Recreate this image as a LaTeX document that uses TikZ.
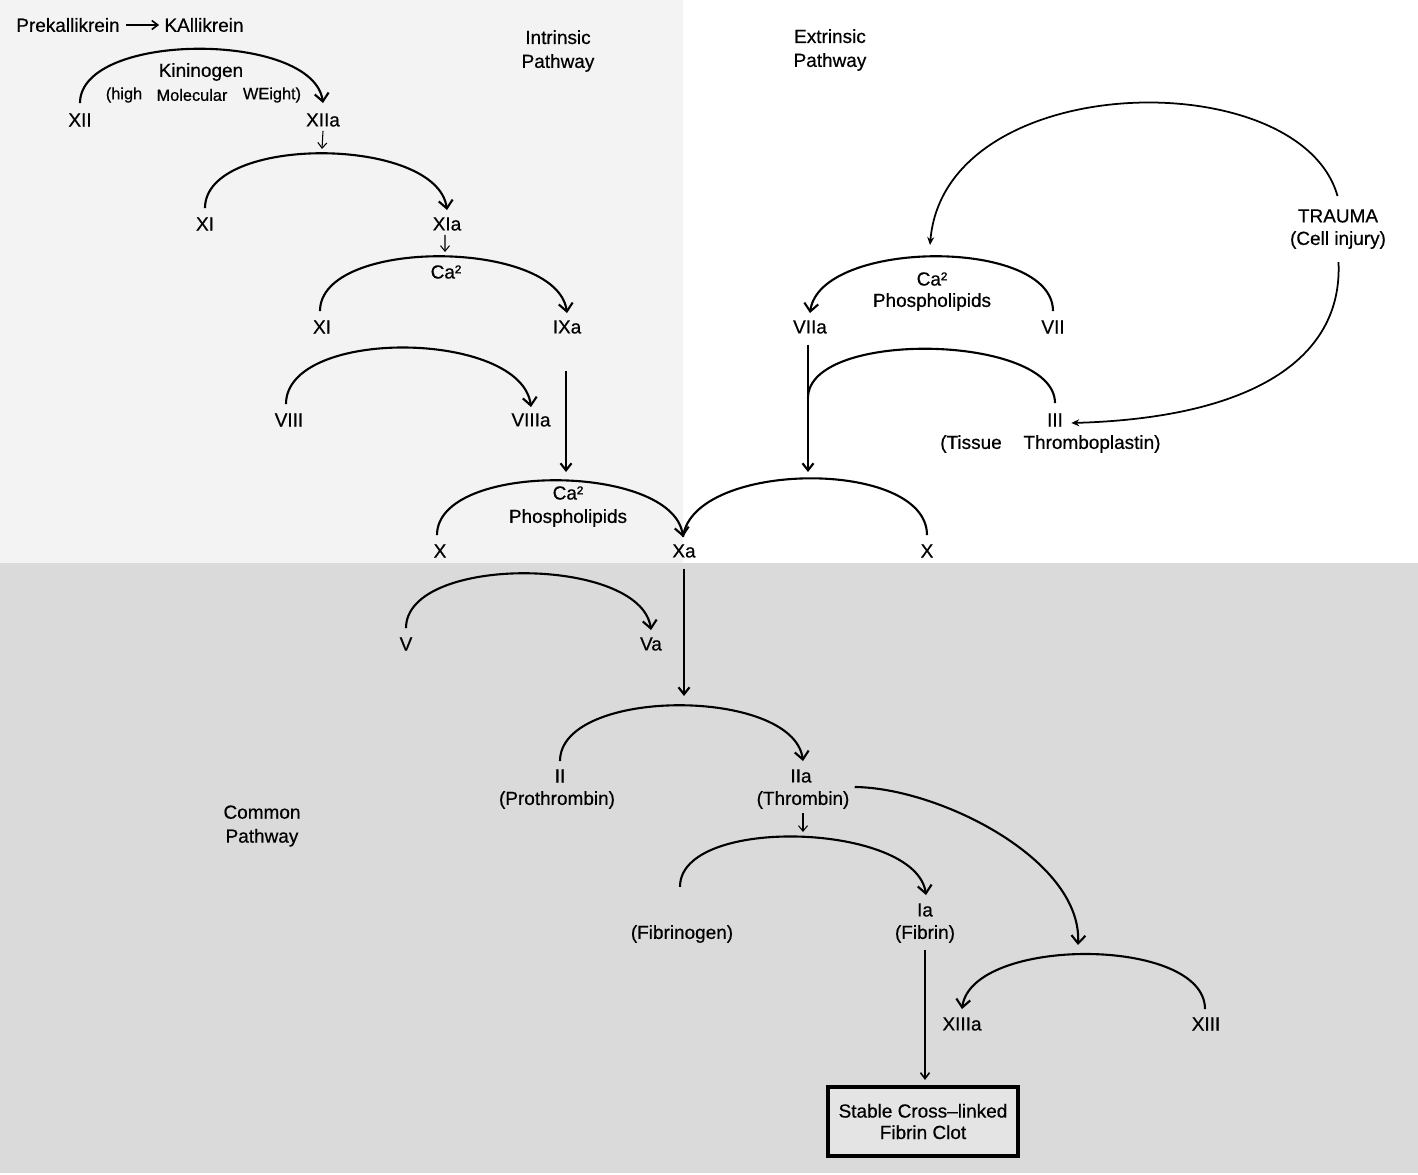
\documentclass[tikz,border=0pt]{standalone}
\usepackage{fontspec}
\setmainfont[FakeBold=0.5,AutoFakeBold=0.5]{Liberation Sans}
\usetikzlibrary{arrows.meta}
\definecolor{bgA}{HTML}{F3F3F3}
\definecolor{bgC}{HTML}{DADADA}
\definecolor{boxc}{HTML}{E4E4E4}
\begin{document}
\begin{tikzpicture}[x=0.02cm,y=-0.02cm,
  lbl/.style={inner sep=0pt, font=\fontsize{10.8}{13}\selectfont\bfseries},
  sml/.style={inner sep=0pt, font=\fontsize{9.3}{11}\selectfont\bfseries},
  two/.style={inner sep=0pt, align=center, font=\fontsize{10.8}{13.6}\selectfont\bfseries},
  arcline/.style={line width=1.2pt},
  arcarrow/.style={line width=1.2pt, -{Straight Barb[length=1.6mm,width=2.8mm,line width=1.2pt]}},
  longarrow/.style={line width=1.3pt, -{Straight Barb[length=1.4mm,width=2.2mm,line width=1.2pt]}},
  tinyarrow/.style={line width=0.6pt, -{Straight Barb[length=1.1mm,width=1.8mm,line width=0.6pt]}},
  thinarrow/.style={line width=0.9pt, -{Straight Barb[length=1.2mm,width=1.8mm,line width=0.9pt]}},
  traumaarrow/.style={line width=1.0pt, -{Stealth[length=1.6mm,width=1.4mm]}}
]
\useasboundingbox (0,0) rectangle (1418,1175);
\fill[white] (0,0) rectangle (1418,1175);
\fill[bgA] (0,0) rectangle (683,563);
\fill[bgC] (0,563) rectangle (1418,1173);

% ---- labels ----
\node[lbl] (pk) at (68,25) {Prekallikrein};
\node[lbl] (ka) at (204,25) {KAllikrein};
\node[two] (intr) at (558,51) {Intrinsic\\Pathway};
\node[two] (extr) at (830,50) {Extrinsic\\Pathway};
\node[lbl] (kin) at (201,72) {Kininogen};
\node[sml] (high) at (124,95) {(high};
\node[sml] (mol) at (192,95) {Molecular};
\node[sml] (wei) at (272,95) {WEight)};
\node[lbl] (f12) at (80,120) {XII};
\node[lbl] (f12a) at (323,120) {XIIa};
\node[lbl] (f11) at (205,224) {XI};
\node[lbl] (f11a) at (447,224) {XIa};
\node[lbl] (caA) at (446,272) {Ca²};
\node[lbl] (f9) at (322,327) {XI};
\node[lbl] (f9a) at (567,327) {IXa};
\node[lbl] (f8) at (289,420) {VIII};
\node[lbl] (f8a) at (531,420) {VIIIa};
\node[lbl] (caB) at (568,493) {Ca²};
\node[lbl] (phB) at (568,518) {Phospholipids};
\node[lbl] (f10l) at (440,551) {X};
\node[lbl] (f10a) at (684,551) {Xa};
\node[lbl] (f10r) at (927,551) {X};
\node[lbl] (trauma) at (1338,216) {TRAUMA};
\node[lbl] (cell) at (1338,240) {(Cell injury)};
\node[lbl] (caC) at (932,279) {Ca²};
\node[lbl] (phC) at (932,302) {Phospholipids};
\node[lbl] (f7a) at (810,327) {VIIa};
\node[lbl] (f7) at (1053,327) {VII};
\node[lbl] (f3) at (1055,420) {III};
\node[lbl] (tis) at (971,444) {(Tissue};
\node[lbl] (thr) at (1092,444) {Thromboplastin)};
\node[lbl] (f5) at (406,644) {V};
\node[lbl] (f5a) at (651,644) {Va};
\node[lbl] (f2) at (560,776) {II};
\node[lbl] (prot) at (557,800) {(Prothrombin)};
\node[lbl] (f2a) at (801,776) {IIa};
\node[lbl] (thrb) at (803,800) {(Thrombin)};
\node[two] (common) at (262,826) {Common\\Pathway};
\node[lbl] (fibg) at (682,934) {(Fibrinogen)};
\node[lbl] (f1a) at (925,910) {Ia};
\node[lbl] (fibr) at (925,934) {(Fibrin)};
\node[lbl] (f13a) at (962,1024) {XIIIa};
\node[lbl] (f13) at (1206,1024) {XIII};
\node[draw, line width=2.3pt, fill=boxc, minimum width=3.8cm, minimum height=1.38cm,
      align=center, inner sep=0pt, font=\fontsize{10.8}{12.2}\selectfont\bfseries] (clot) at (923,1121.5)
      {Stable Cross–linked\\Fibrin Clot};

% ---- helper coordinates ----
\coordinate (top2) at (322,149);
\coordinate (top3) at (445,252);
\coordinate (rapex) at (808,472);
\coordinate (join) at (808,398);
\coordinate (top10) at (684,696);
\coordinate (top11) at (803,832);
\coordinate (top5) at (566,472);

% ---- connectors ----
\draw[thinarrow] ([xshift=1.2mm]pk.east) -- ([xshift=-1mm]ka.west);

\draw[arcarrow] ([yshift=2mm]f12.north) .. controls +(0,-72) and +(-10,-72) .. ([yshift=2mm]f12a.north);
\draw[tinyarrow] ([yshift=-0.8mm]f12a.south) -- (top2);

\draw[arcarrow] ([yshift=1.8mm]f11.north) .. controls +(0,-74) and +(-10,-74) .. ([yshift=1.4mm]f11a.north);
\draw[tinyarrow] ([xshift=-0.4mm,yshift=-0.8mm]f11a.south) -- (top3);

\draw[arcarrow] ([xshift=-0.4mm,yshift=1.8mm]f9.north) .. controls +(0,-74) and +(-10,-74) .. ([yshift=1.4mm]f9a.north);

\draw[arcarrow] ([xshift=-0.6mm,yshift=1.8mm]f8.north) .. controls +(0,-77) and +(-10,-77) .. ([yshift=1.2mm]f8a.north);

\draw[longarrow] ([yshift=-7.5mm]f9a.south -| top5) -- (top5);

\draw[arcarrow] ([xshift=-0.6mm,yshift=1.8mm]f10l.north) .. controls +(0,-74) and +(-10,-74) .. ([xshift=-0.2mm,yshift=1.4mm]f10a.north);
\draw[arcline] ([yshift=1.8mm]f10r.north) .. controls +(0,-77) and +(10,-77) .. ([xshift=-0.2mm,yshift=1.4mm]f10a.north);

% extrinsic
\draw[arcarrow] ([yshift=1.8mm]f7.north) .. controls +(0,-74) and +(10,-74) .. ([yshift=1.4mm]f7a.north);
\draw[longarrow] ([yshift=-2.2mm]f7a.south -| rapex) -- (rapex);
\draw[arcline] (join) .. controls +(0,-69) and +(0,-69) .. ([yshift=2mm]f3.north);

% trauma
\draw[traumaarrow] ([xshift=-0.1mm,yshift=2.6mm]trauma.north) .. controls (1300,62) and (945,68) .. (930,245);
\draw[traumaarrow] ([xshift=0.1mm,yshift=-2.6mm]cell.south) .. controls (1343,360) and (1250,418) .. ([xshift=1.6mm]f3.east |- 0,423);

% common
\draw[longarrow] ([yshift=-2.2mm]f10a.south) -- (top10);
\draw[arcarrow] ([yshift=1.8mm]f5.north) .. controls +(0,-74) and +(-10,-74) .. ([yshift=1.4mm]f5a.north);
\draw[arcarrow] ([yshift=1.6mm]f2.north) .. controls +(0,-74) and +(-10,-74) .. ([xshift=0.4mm,yshift=1.6mm]f2a.north);
\draw[tinyarrow] ([yshift=-0.8mm]thrb.south) -- (top11);
\draw[arcarrow] ([xshift=-0.4mm,yshift=7.6mm]fibg.north) .. controls +(0,-72) and +(-10,-72) .. ([xshift=0.2mm,yshift=1.6mm]f1a.north);
\draw[arcarrow] ([xshift=1mm]thrb.east |- 0,787) .. controls (940,788) and (1082,860) .. (1078,945);
\draw[arcarrow] ([xshift=-0.2mm,yshift=1.6mm]f13.north) .. controls +(0,-73) and +(10,-73) .. ([yshift=1.6mm]f13a.north);
\draw[thinarrow] ([yshift=-1.4mm]fibr.south) -- ([yshift=1mm]clot.north -| fibr.south);
\end{tikzpicture}
\end{document}
